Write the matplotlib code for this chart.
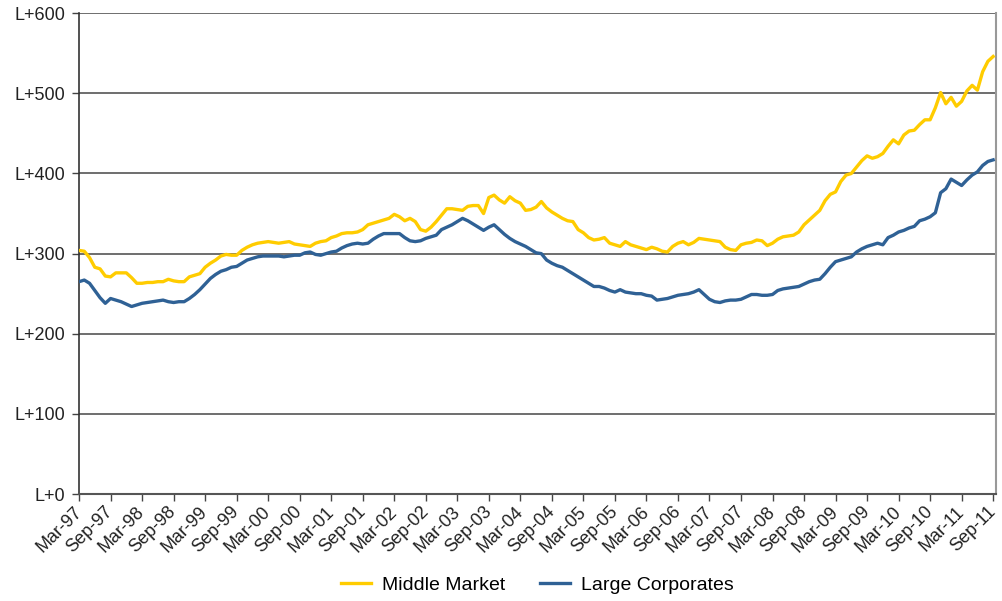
import matplotlib
matplotlib.use("Agg")
import matplotlib.pyplot as plt

# months since Mar-97, one value per month up to Sep-11
middle_market = [
    304, 303, 295, 283, 281, 272, 271, 276, 276, 276, 270, 263, 263, 264, 264, 265,
    265, 268, 266, 265, 265, 271, 273, 275, 283, 288, 292, 297, 299, 298, 298, 304,
    308, 311, 313, 314, 315, 314, 313, 314, 315, 312, 311, 310, 309, 313, 315, 316,
    320, 322, 325, 326, 326, 327, 330, 336, 338, 340, 342, 344, 349, 346, 341, 344,
    340, 330, 328, 333, 340, 348, 356, 356, 355, 354, 359, 360, 360, 350, 370, 373,
    367, 363, 371, 366, 363, 354, 355, 358, 365, 357, 352, 348, 344, 341, 340, 330,
    326, 320, 317, 318, 320, 313, 311, 309, 315, 311, 309, 307, 305, 308, 306, 303,
    302, 309, 313, 315, 311, 314, 319, 318, 317, 316, 315, 308, 305, 304, 311, 313,
    314, 317, 316, 310, 313, 318, 321, 322, 323, 327, 336, 342, 348, 354, 366, 374,
    377, 390, 398, 400, 408, 416, 422, 419, 421, 425, 434, 442, 437, 448, 453, 454,
    461, 467, 467, 482, 501, 487, 495, 484, 490, 503, 510, 504, 527, 540, 546,
]
large_corporates = [
    265, 267, 263, 254, 245, 238, 244, 242, 240, 237, 234, 236, 238, 239, 240, 241,
    242, 240, 239, 240, 240, 244, 249, 255, 262, 269, 274, 278, 280, 283, 284, 288,
    292, 294, 296, 297, 297, 297, 297, 296, 297, 298, 298, 301, 302, 299, 298, 300,
    302, 303, 307, 310, 312, 313, 312, 313, 318, 322, 325, 325, 325, 325, 320, 316,
    315, 316, 319, 321, 323, 330, 333, 336, 340, 344, 341, 337, 333, 329, 333, 336,
    330, 324, 319, 315, 312, 309, 305, 301, 300, 292, 288, 285, 283, 279, 275, 271,
    267, 263, 259, 259, 257, 254, 252, 255, 252, 251, 250, 250, 248, 247, 242, 243,
    244, 246, 248, 249, 250, 252, 255, 249, 243, 240, 239, 241, 242, 242, 243, 246,
    249, 249, 248, 248, 249, 254, 256, 257, 258, 259, 262, 265, 267, 268, 275, 283,
    290, 292, 294, 296, 302, 306, 309, 311, 313, 311, 320, 323, 327, 329, 332, 334,
    341, 343, 346, 351, 376, 381, 393, 389, 385, 392, 398, 402, 410, 415, 417,
]
tick_labels = ["Mar-97", "Sep-97", "Mar-98", "Sep-98", "Mar-99", "Sep-99", "Mar-00",
               "Sep-00", "Mar-01", "Sep-01", "Mar-02", "Sep-02", "Mar-03", "Sep-03",
               "Mar-04", "Sep-04", "Mar-05", "Sep-05", "Mar-06", "Sep-06", "Mar-07",
               "Sep-07", "Mar-08", "Sep-08", "Mar-09", "Sep-09", "Mar-10", "Sep-10",
               "Mar-11", "Sep-11"]
y_ticks = [0, 100, 200, 300, 400, 500, 600]

plt.rcParams['font.family'] = ['Liberation Sans', 'DejaVu Sans']

fig = plt.figure(figsize=(10.03, 6.01), dpi=100)
ax = fig.add_axes([0.0788, 0.178, 0.914, 0.8])

months = list(range(len(middle_market)))
ax.plot(months, middle_market, color="#FFCC00", lw=2.4, label="Middle Market", zorder=3)
ax.plot(months, large_corporates, color="#2F6195", lw=2.4, label="Large Corporates", zorder=3)

ax.set_xlim(0, 174.5)
ax.set_ylim(0, 600)
ax.set_yticks(y_ticks)
ax.set_yticklabels(["L+%d" % v for v in y_ticks], fontsize=13, color="#222222")
ax.set_xticks([6 * i for i in range(len(tick_labels))])
ax.set_xticklabels(tick_labels, rotation=45, ha="right", va="center",
                   rotation_mode="anchor", fontsize=13, color="#222222")
ax.tick_params(axis="both", direction="out", length=5, width=1, color="#444444")
ax.tick_params(axis="y", pad=5)
ax.tick_params(axis="x", pad=6)

ax.grid(axis="y", color="#555555", lw=1.2, zorder=1)
ax.spines["top"].set_visible(False)
ax.spines["left"].set_color("#333333")
ax.spines["bottom"].set_color("#555555")
ax.spines["right"].set_color("#999999")
ax.spines["left"].set_linewidth(1.2)
ax.spines["bottom"].set_linewidth(1.5)
ax.spines["right"].set_linewidth(1.5)

fig.legend(loc="center", bbox_to_anchor=(0.536, 1 - 585 / 601), ncol=2, frameon=False,
           fontsize=14, handlelength=1.55, columnspacing=1.8, handletextpad=0.55)

fig.savefig("out.png", dpi=100)
